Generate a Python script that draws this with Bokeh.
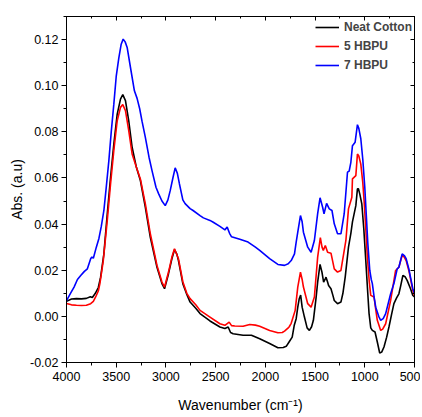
from bokeh.plotting import figure
from bokeh.models import (Range1d, LinearAxis, SingleIntervalTicker, Legend, LegendItem,
                          NumeralTickFormatter, CustomJSTickFormatter)
from bokeh.embed import file_html
from bokeh.resources import INLINE

# ---- data ----
series_names = ["Neat Cotton", "5 HBPU", "7 HBPU"]
series_colors = ["black", "#ff0000", "#0000ff"]

wn_black = [4000, 3950, 3900, 3850, 3800, 3760, 3740, 3710, 3680, 3657, 3624, 3590, 3557, 3524,
            3490, 3457, 3434, 3407, 3374, 3340, 3297, 3257, 3207, 3157, 3090, 3040, 3014, 2974,
            2940, 2914, 2890, 2874, 2830, 2790, 2757, 2700, 2657, 2557, 2457, 2407, 2374, 2350,
            2324, 2224, 2140, 2057, 1957, 1874, 1820, 1790, 1760, 1730, 1710, 1690, 1674, 1660,
            1645, 1630, 1607, 1580, 1557, 1535, 1517, 1490, 1474, 1450, 1430, 1414, 1400, 1390,
            1375, 1364, 1340, 1320, 1307, 1274, 1240, 1220, 1197, 1164, 1140, 1124, 1090, 1074,
            1064, 1050, 1030, 1010, 990, 970, 957, 940, 924, 897, 874, 850, 830, 807, 780, 757,
            730, 707, 680, 657, 640, 617, 595, 574, 540, 517, 500]
abs_black = [0.0065, 0.0075, 0.0077, 0.0076, 0.0078, 0.0085, 0.0082, 0.0100, 0.0125, 0.0170,
             0.0271, 0.0445, 0.0603, 0.0747, 0.0877, 0.0942, 0.0961, 0.0935, 0.0848, 0.0733,
             0.0646, 0.0589, 0.0473, 0.0343, 0.0213, 0.0142, 0.0120, 0.0185, 0.0250, 0.0289,
             0.0270, 0.0242, 0.0142, 0.0095, 0.0062, 0.0035, 0.0012, -0.0020, -0.0046, -0.0053,
             -0.0046, -0.0070, -0.0075, -0.0082, -0.0082, -0.0097, -0.0118, -0.0136, -0.0135,
             -0.0130, -0.0110, -0.0090, -0.0040, -0.0010, 0.0040, 0.0075, 0.0092, 0.0040,
             -0.0003, -0.0050, -0.0061, -0.0045, -0.0017, 0.0080, 0.0148, 0.0225, 0.0190,
             0.0148, 0.0160, 0.0170, 0.0150, 0.0134, 0.0120, 0.0090, 0.0069, 0.0055, 0.0062,
             0.0100, 0.0170, 0.0300, 0.0360, 0.0410, 0.0480, 0.0553, 0.0553, 0.0530, 0.0488,
             0.0380, 0.0242, 0.0100, 0.0012, -0.0050, -0.0061, -0.0068, -0.0111, -0.0159,
             -0.0155, -0.0133, -0.0090, -0.0046, 0.0010, 0.0055, 0.0080, 0.0098, 0.0130,
             0.0177, 0.0172, 0.0156, 0.0120, 0.0091, 0.0085]

wn_red = [4000, 3950, 3900, 3850, 3800, 3757, 3730, 3707, 3680, 3664, 3630, 3590, 3557, 3524,
          3490, 3457, 3434, 3407, 3374, 3340, 3297, 3257, 3207, 3157, 3090, 3040, 3014, 2974,
          2940, 2914, 2874, 2830, 2790, 2757, 2700, 2657, 2557, 2457, 2407, 2364, 2340, 2307,
          2224, 2157, 2100, 2057, 1957, 1874, 1830, 1807, 1770, 1760, 1740, 1700, 1674, 1647,
          1630, 1617, 1574, 1540, 1507, 1474, 1447, 1430, 1417, 1397, 1374, 1340, 1307, 1274,
          1240, 1190, 1164, 1130, 1124, 1090, 1074, 1060, 1040, 1020, 1007, 990, 974, 955, 940,
          907, 890, 874, 840, 820, 790, 740, 690, 657, 640, 624, 605, 584, 557, 517, 500]
abs_red = [0.0056, 0.0050, 0.0048, 0.0047, 0.0048, 0.0055, 0.0065, 0.0084, 0.0110, 0.0142,
           0.0242, 0.0416, 0.0574, 0.0719, 0.0848, 0.0906, 0.0918, 0.0892, 0.0805, 0.0704,
           0.0646, 0.0596, 0.0488, 0.0358, 0.0221, 0.0149, 0.0127, 0.0192, 0.0257, 0.0293,
           0.0250, 0.0150, 0.0100, 0.0077, 0.0050, 0.0026, -0.0003, -0.0032, -0.0039, -0.0025,
           -0.0040, -0.0042, -0.0043, -0.0035, -0.0038, -0.0043, -0.0061, -0.0071, -0.0070,
           -0.0064, -0.0050, -0.0045, -0.0030, 0.0026, 0.0127, 0.0192, 0.0160, 0.0127, 0.0055,
           0.0040, 0.0084, 0.0257, 0.0341, 0.0300, 0.0286, 0.0307, 0.0278, 0.0274, 0.0206,
           0.0192, 0.0199, 0.0329, 0.0466, 0.0516, 0.0596, 0.0610, 0.0704, 0.0695, 0.0660,
           0.0580, 0.0502, 0.0380, 0.0257, 0.0150, 0.0091, 0.0084, 0.0030, -0.0017, -0.0061,
           -0.0055, -0.0032, 0.0069, 0.0199, 0.0213, 0.0240, 0.0264, 0.0258, 0.0242, 0.0199,
           0.0113, 0.0090]

wn_blue = [4000, 3960, 3924, 3890, 3857, 3820, 3790, 3757, 3745, 3730, 3700, 3674, 3650, 3624,
           3600, 3574, 3550, 3524, 3500, 3474, 3450, 3430, 3410, 3390, 3357, 3317, 3290, 3264,
           3240, 3207, 3170, 3140, 3100, 3074, 3040, 3007, 2980, 2957, 2930, 2907, 2885, 2864,
           2830, 2807, 2757, 2727, 2657, 2623, 2557, 2524, 2457, 2407, 2384, 2360, 2340, 2257,
           2174, 2100, 2057, 1957, 1874, 1807, 1770, 1740, 1707, 1690, 1674, 1647, 1630, 1617,
           1574, 1540, 1507, 1474, 1450, 1424, 1410, 1384, 1357, 1330, 1307, 1274, 1240, 1207,
           1174, 1157, 1140, 1124, 1097, 1074, 1060, 1040, 1020, 1000, 985, 970, 950, 935, 924,
           905, 890, 860, 840, 815, 790, 740, 707, 674, 657, 624, 600, 584, 557, 517, 500]
abs_blue = [0.0068, 0.0100, 0.0127, 0.0160, 0.0177, 0.0195, 0.0206, 0.0250, 0.0257, 0.0252,
            0.0300, 0.0338, 0.0390, 0.0459, 0.0560, 0.0675, 0.0800, 0.0920, 0.1040, 0.1120,
            0.1180, 0.1202, 0.1190, 0.1166, 0.1080, 0.0978, 0.0945, 0.0900, 0.0845, 0.0776,
            0.0690, 0.0632, 0.0560, 0.0532, 0.0500, 0.0480, 0.0505, 0.0545, 0.0600, 0.0644,
            0.0620, 0.0574, 0.0505, 0.0489, 0.0467, 0.0459, 0.0437, 0.0427, 0.0416, 0.0408,
            0.0390, 0.0375, 0.0387, 0.0360, 0.0345, 0.0334, 0.0322, 0.0300, 0.0286, 0.0250,
            0.0225, 0.0221, 0.0228, 0.0242, 0.0271, 0.0322, 0.0365, 0.0437, 0.0410, 0.0365,
            0.0300, 0.0278, 0.0329, 0.0445, 0.0514, 0.0473, 0.0445, 0.0490, 0.0466, 0.0459,
            0.0401, 0.0358, 0.0358, 0.0445, 0.0625, 0.0630, 0.0668, 0.0740, 0.0755, 0.0831,
            0.0815, 0.0770, 0.0680, 0.0560, 0.0440, 0.0320, 0.0200, 0.0160, 0.0142, 0.0080,
            0.0040, 0.0000, -0.0017, -0.0010, 0.0012, 0.0098, 0.0142, 0.0206, 0.0213, 0.0271,
            0.0262, 0.0250, 0.0206, 0.0120, 0.0100]

x_ticks_step = 500
y_ticks_step = 0.02

FONT = "Liberation Sans"

p = figure(width=420, height=416, output_backend="svg", toolbar_location=None,
           x_range=Range1d(4000, 500), y_range=Range1d(-0.02, 0.13),
           min_border_left=66, min_border_right=6, min_border_top=16, min_border_bottom=54,
           background_fill_color="white", border_fill_color="white")
p.grid.visible = False
p.outline_line_color = "black"
p.outline_line_width = 1

renderers = []
for wn, ab, c in zip([wn_black, wn_red, wn_blue], [abs_black, abs_red, abs_blue], series_colors):
    renderers.append(p.line(wn, ab, line_color=c, line_width=1.6))

p.xaxis.ticker = SingleIntervalTicker(interval=x_ticks_step, num_minor_ticks=2)
p.yaxis.ticker = SingleIntervalTicker(interval=y_ticks_step, num_minor_ticks=2)
p.yaxis.formatter = NumeralTickFormatter(format="0.00")

for ax in [p.xaxis[0], p.yaxis[0]]:
    ax.axis_line_color = "black"
    ax.major_tick_line_color = "black"
    ax.minor_tick_line_color = "black"
    ax.major_tick_in = 0
    ax.major_tick_out = 5
    ax.minor_tick_in = 0
    ax.minor_tick_out = 3
    ax.major_label_text_font = FONT
    ax.major_label_text_font_size = "12.5px"
    ax.major_label_text_color = "black"
    ax.axis_label_text_font = FONT
    ax.axis_label_text_font_size = "14px"
    ax.axis_label_text_font_style = "normal"
    ax.axis_label_text_color = "black"

p.xaxis.axis_label = "Wavenumber (cm\u207b\u00b9)"
p.yaxis.axis_label = "Abs. (a.u)"
p.xaxis.major_label_standoff = 4
p.xaxis.axis_label_standoff = 13
p.yaxis.major_label_standoff = 3
p.yaxis.axis_label_standoff = 2

# mirrored axes with inward ticks, no labels
blank = CustomJSTickFormatter(code="return ''")
top = LinearAxis(ticker=SingleIntervalTicker(interval=x_ticks_step, num_minor_ticks=2),
                 formatter=blank)
right = LinearAxis(ticker=SingleIntervalTicker(interval=y_ticks_step, num_minor_ticks=2),
                   formatter=blank)
for ax in [top, right]:
    ax.major_tick_in = 4
    ax.major_tick_out = 0
    ax.minor_tick_in = 2
    ax.minor_tick_out = 0
    ax.major_label_standoff = 0
    ax.major_label_text_font_size = "1px"
    ax.axis_line_color = "black"
p.add_layout(top, "above")
p.add_layout(right, "right")

legend = Legend(items=[LegendItem(label=n, renderers=[r]) for n, r in zip(series_names, renderers)],
                location="top_right", border_line_color=None, background_fill_alpha=0,
                label_text_font=FONT, label_text_font_size="12px", label_text_font_style="bold",
                glyph_width=24, glyph_height=18, label_height=18, label_standoff=5,
                spacing=1, padding=2, margin=2)
p.add_layout(legend)

open("out.html", "w").write(file_html(p, INLINE))
